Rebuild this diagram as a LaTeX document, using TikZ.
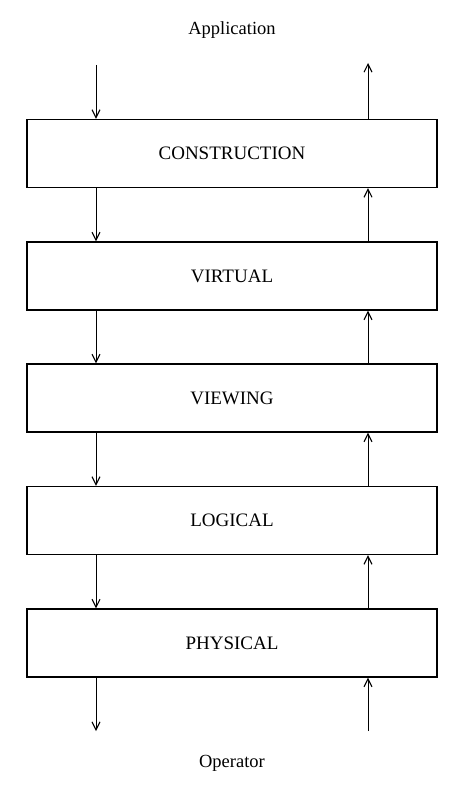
\documentclass[tikz,border=0pt]{standalone}
\usepackage{fontspec}
\setmainfont{Liberation Serif}
\usetikzlibrary{arrows.meta}
\begin{document}
\begin{tikzpicture}[x=1pt,y=-1pt,
  layer/.style={draw,line width=1.1pt,minimum width=410pt,minimum height=68pt,inner sep=0pt,font=\fontsize{19}{22}\selectfont},
  lbl/.style={font=\fontsize{18.5}{22}\selectfont,inner sep=0pt},
  flow/.style={line width=0.9pt,-{Straight Barb[length=8pt,width=8pt,line width=1.1pt]}}]
\useasboundingbox (0,0) rectangle (474,789);
\node[lbl] (app) at (232,30) {Application};
\node[lbl] (op) at (232,763) {Operator};
\node[layer] (c) at (232,153.5) {CONSTRUCTION};
\node[layer] (v) at (232,276) {VIRTUAL};
\node[layer] (w) at (232,398) {VIEWING};
\node[layer] (l) at (232,520.5) {LOGICAL};
\node[layer] (p) at (232,643) {PHYSICAL};
\coordinate (tl) at (96,65);
\coordinate (tr) at (368,63);
\coordinate (bl) at (96,731);
\coordinate (br) at (368,731);
\draw[flow] (tl) -- (tl |- c.north);
\draw[flow] (tr |- c.north) -- (tr);
\foreach \a/\b in {c/v,v/w,w/l,l/p}{
  \draw[flow] (tl |- \a.south) -- (tl |- \b.north);
  \draw[flow] (tr |- \b.north) -- (tr |- \a.south);
}
\draw[flow] (tl |- p.south) -- (bl);
\draw[flow] (br) -- (tr |- p.south);
\end{tikzpicture}
\end{document}
